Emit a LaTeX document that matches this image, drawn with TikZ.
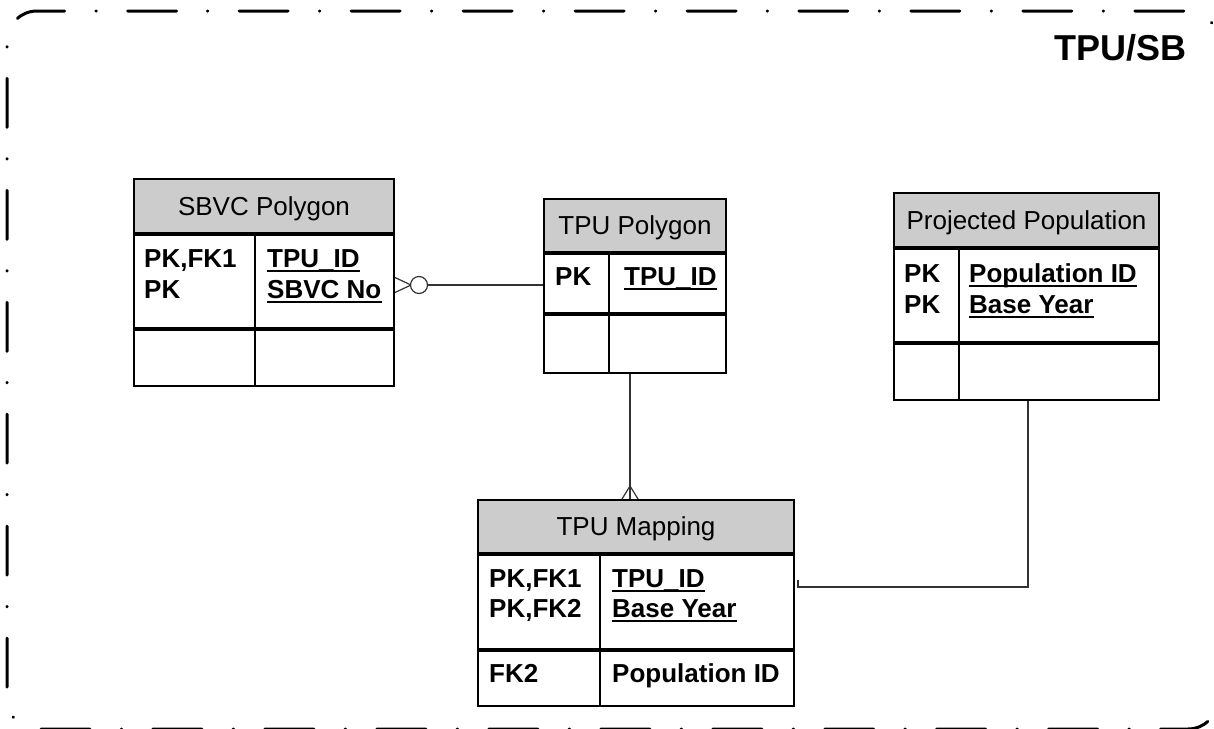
\documentclass[tikz,border=0pt]{standalone}
\usepackage{fontspec}
\setmainfont{Liberation Sans}
\usetikzlibrary{calc}
\tikzset{
  hdr/.style={draw=black, line width=2pt, fill=gray!40, inner sep=0pt, anchor=north west,
    font=\fontsize{26}{31}\selectfont, text height=18.6pt, text depth=0pt},
  rowbox/.style={draw=black, line width=2pt, inner sep=0pt, anchor=north},
  keytxt/.style={inner sep=0pt, anchor=base west, font=\fontsize{26}{31}\selectfont\bfseries},
  tline/.style={draw=black, line width=2pt},
  uline/.style={draw=black, line width=2pt},
  conn/.style={draw=black!80, line width=1.2pt},
  frame/.style={draw=black, line width=3pt, line cap=round, rounded corners=30pt,
    dash pattern=on 49pt off 31.23pt on 0.5pt off 31.23pt},
}
\newcommand{\ulnode}[1]{\draw[uline] ([yshift=-3.5pt]#1.base west) -- ([yshift=-3.5pt]#1.base east);}
\begin{document}
\begin{tikzpicture}[x=1pt,y=-1pt]
\useasboundingbox (0,0) rectangle (1214,728);
% outer frame
\draw[frame] (176.5,11) -- (7,11) -- (7,729) -- (1218,729) -- (1218,11) -- (176.5,11);
\node[inner sep=0pt, anchor=base east, font=\fontsize{36}{40}\selectfont\bfseries] (title) at (1187,60) {TPU/SB};

% SBVC Polygon
\node[hdr, minimum width=260pt, minimum height=54pt] (sbvch) at (133,178) {SBVC Polygon};
\node[rowbox, minimum width=260pt, minimum height=93pt] (sbvck) at (sbvch.south) {};
\node[rowbox, minimum width=260pt, minimum height=56pt] (sbvce) at (sbvck.south) {};
\draw[tline] (sbvch.south west -| 255,0) -- (sbvce.south west -| 255,0);
\node[keytxt] (s1) at (144,267) {PK,FK1};
\node[keytxt] (s2) at (144,298) {PK};
\node[keytxt] (s3) at (267,267) {TPU\_ID};
\node[keytxt] (s4) at (267,298) {SBVC No};
\ulnode{s3}\ulnode{s4}

% TPU Polygon
\node[hdr, minimum width=182pt, minimum height=53pt] (tpuph) at (543,198) {TPU Polygon};
\node[rowbox, minimum width=182pt, minimum height=59pt] (tpupk) at (tpuph.south) {};
\node[rowbox, minimum width=182pt, minimum height=58pt] (tpupe) at (tpupk.south) {};
\draw[tline] (tpuph.south west -| 609,0) -- (tpupe.south west -| 609,0);
\node[keytxt] (t1) at (555,285) {PK};
\node[keytxt] (t2) at (624,285) {TPU\_ID};
\ulnode{t2}

% Projected Population
\node[hdr, minimum width=265pt, minimum height=54pt] (pph) at (893,192) {Projected Population};
\node[rowbox, minimum width=265pt, minimum height=93pt] (ppk) at (pph.south) {};
\node[rowbox, minimum width=265pt, minimum height=56pt] (ppe) at (ppk.south) {};
\draw[tline] (pph.south west -| 959,0) -- (ppe.south west -| 959,0);
\node[keytxt] (p1) at (904,282) {PK};
\node[keytxt] (p2) at (904,313) {PK};
\node[keytxt] (p3) at (969,282) {Population ID};
\node[keytxt] (p4) at (969,313) {Base Year};
\ulnode{p3}\ulnode{p4}

% TPU Mapping
\node[hdr, minimum width=316pt, minimum height=53pt] (tpumh) at (477,499) {TPU Mapping};
\node[rowbox, minimum width=316pt, minimum height=94pt] (tpumk) at (tpumh.south) {};
\node[rowbox, minimum width=316pt, minimum height=55pt] (tpume) at (tpumk.south) {};
\draw[tline] (tpumh.south west -| 600,0) -- (tpume.south west -| 600,0);
\node[keytxt] (m1) at (489,587) {PK,FK1};
\node[keytxt] (m2) at (489,617) {PK,FK2};
\node[keytxt] (m3) at (489,682) {FK2};
\node[keytxt] (m4) at (612,587) {TPU\_ID};
\node[keytxt] (m5) at (612,617) {Base Year};
\node[keytxt] (m6) at (612,682) {Population ID};
\ulnode{m4}\ulnode{m5}

% connector SBVC -- TPU Polygon (zero or many)
\coordinate (c1a) at ($(sbvck.north east)+(0,51)$);
\draw[conn] ($(c1a)+(0,-7.5)$) -- ($(c1a)+(16,0)$) -- ($(c1a)+(0,7.5)$);
\draw[conn, fill=white] ($(c1a)+(24,0)$) circle[radius=8.5pt];
\draw[conn] ($(c1a)+(32.5,0)$) -- (tpupk.west |- c1a);

% connector TPU Polygon -- TPU Mapping (many)
\coordinate (c2a) at ([xshift=-5pt]tpupe.south);
\coordinate (c2b) at (c2a |- tpumh.north);
\draw[conn] (c2a) -- (c2b);
\draw[conn] ($(c2b)+(-8,0)$) -- ($(c2b)+(0,-13)$) -- ($(c2b)+(8,0)$);

% connector Projected Population -- TPU Mapping
\coordinate (c3) at ($(tpumk.north east)+(3,33)$);
\draw[conn] ([xshift=1.5pt]ppe.south) -- ([xshift=1.5pt]ppe.south |- c3) -- (c3) -- ++(0,-7);
\end{tikzpicture}
\end{document}
